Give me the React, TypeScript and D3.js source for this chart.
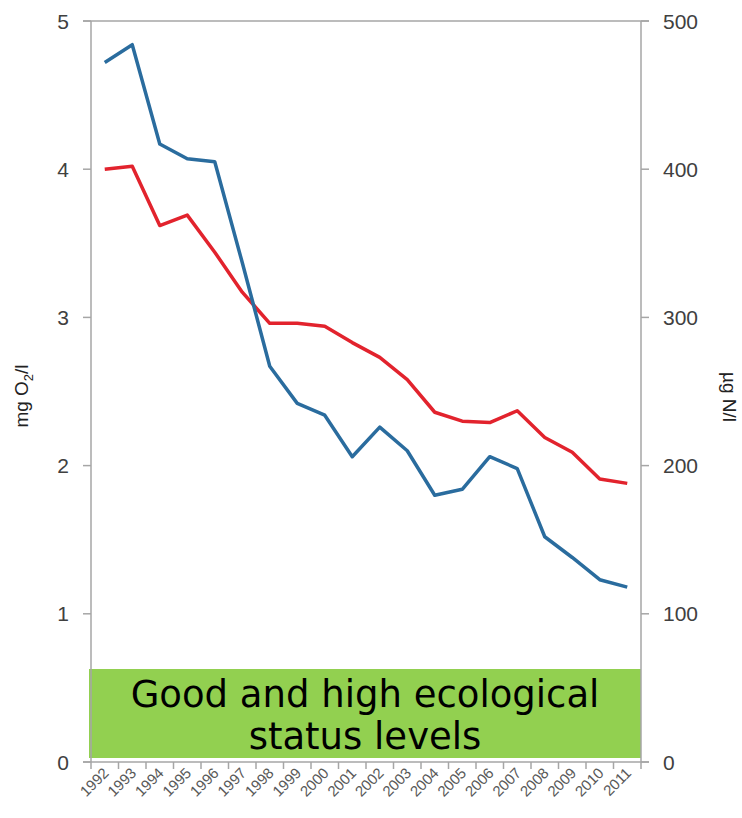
import React from "react";
import * as d3 from "d3";

const years = ["1992","1993","1994","1995","1996","1997","1998","1999","2000","2001","2002","2003","2004","2005","2006","2007","2008","2009","2010","2011"];
const blueValues = [4.72,4.84,4.17,4.07,4.05,3.37,2.67,2.42,2.34,2.06,2.26,2.10,1.80,1.84,2.06,1.98,1.52,1.38,1.23,1.18];
const redValues = [4.00,4.02,3.62,3.69,3.44,3.17,2.96,2.96,2.94,2.83,2.73,2.58,2.36,2.30,2.29,2.37,2.19,2.09,1.91,1.88];
const leftTicks = [0,1,2,3,4,5];
const rightTicks = [0,100,200,300,400,500];
const leftTitle = "mg O";
const rightTitle = "µg N/l";
const boxLines = ["Good and high ecological", "status levels"];

export default function App() {
  const W = 742, H = 818;
  const x0 = 91, x1 = 641, yTop = 21, yBot = 762;
  const x = d3.scaleBand().domain(years).range([x0, x1]);
  const y = d3.scaleLinear().domain([0, 5]).range([yBot, yTop]);
  const yR = d3.scaleLinear().domain([0, 500]).range([yBot, yTop]);
  const cx = (yr: string) => (x(yr) as number) + x.bandwidth() / 2;
  const line = d3.line<number>().x((_, i) => cx(years[i])).y(d => y(d));
  const axisColor = "#a6a6a6";
  const labelColor = "#404040";
  const bounds = years.map(yr => x(yr) as number).concat([x1]);
  return (
    <svg width={W} height={H} style={{ position: "absolute", left: 0, top: 0, background: "#fff" }}>
      {/* green box */}
      <rect x={89} y={669} width={552} height={89} fill="#92d050" />
      <g fontFamily="DejaVu Sans, Verdana, sans-serif" fontSize={37} fill="#000" textAnchor="middle">
        <text x={365} y={707}>{boxLines[0]}</text>
        <text x={365} y={749}>{boxLines[1]}</text>
      </g>
      {/* axes */}
      <line x1={83} x2={649} y1={yTop} y2={yTop} stroke={axisColor} strokeWidth={1.5} />
      <line x1={83} x2={649} y1={yBot} y2={yBot} stroke={axisColor} strokeWidth={1.5} />
      <line x1={x0} x2={x0} y1={yTop} y2={yBot} stroke={axisColor} strokeWidth={1.5} />
      <line x1={x1} x2={x1} y1={yTop} y2={yBot} stroke={axisColor} strokeWidth={1.5} />
      {leftTicks.map(t => (
        <g key={"l" + t}>
          <line x1={83} x2={x0} y1={y(t)} y2={y(t)} stroke={axisColor} strokeWidth={1.5} />
          <text x={69} y={y(t)} dy="0.36em" textAnchor="end" fontFamily="Liberation Sans, Arial, sans-serif" fontSize={21} fill={labelColor}>{t}</text>
        </g>
      ))}
      {rightTicks.map(t => (
        <g key={"r" + t}>
          <line x1={x1} x2={649} y1={yR(t)} y2={yR(t)} stroke={axisColor} strokeWidth={1.5} />
          <text x={663} y={yR(t)} dy="0.36em" textAnchor="start" fontFamily="Liberation Sans, Arial, sans-serif" fontSize={21} fill={labelColor}>{t}</text>
        </g>
      ))}
      {bounds.map((b, i) => (
        <line key={"xt" + i} x1={b} x2={b} y1={yBot} y2={yBot + 7} stroke={axisColor} strokeWidth={1.5} />
      ))}
      {years.map(yr => (
        <text key={yr} transform={`translate(${cx(yr) + 5},${yBot + 12}) rotate(-45)`} textAnchor="end" fontFamily="Liberation Sans, Arial, sans-serif" fontSize={15} fill="#595959">{yr}</text>
      ))}
      {/* axis titles */}
      <text transform="translate(28,396) rotate(-90)" textAnchor="middle" fontFamily="Liberation Sans, Arial, sans-serif" fontSize={19} fill="#222">
        {leftTitle}<tspan fontSize={13} dy={5}>2</tspan><tspan dy={-5}>/l</tspan>
      </text>
      <text transform="translate(723,397) rotate(90)" textAnchor="middle" fontFamily="Liberation Sans, Arial, sans-serif" fontSize={19} fill="#222">{rightTitle}</text>
      {/* lines */}
      <path d={line(redValues) || ""} fill="none" stroke="#e2232d" strokeWidth={3.5} strokeLinejoin="round" />
      <path d={line(blueValues) || ""} fill="none" stroke="#2a6c9e" strokeWidth={3.5} strokeLinejoin="round" />
    </svg>
  );
}
